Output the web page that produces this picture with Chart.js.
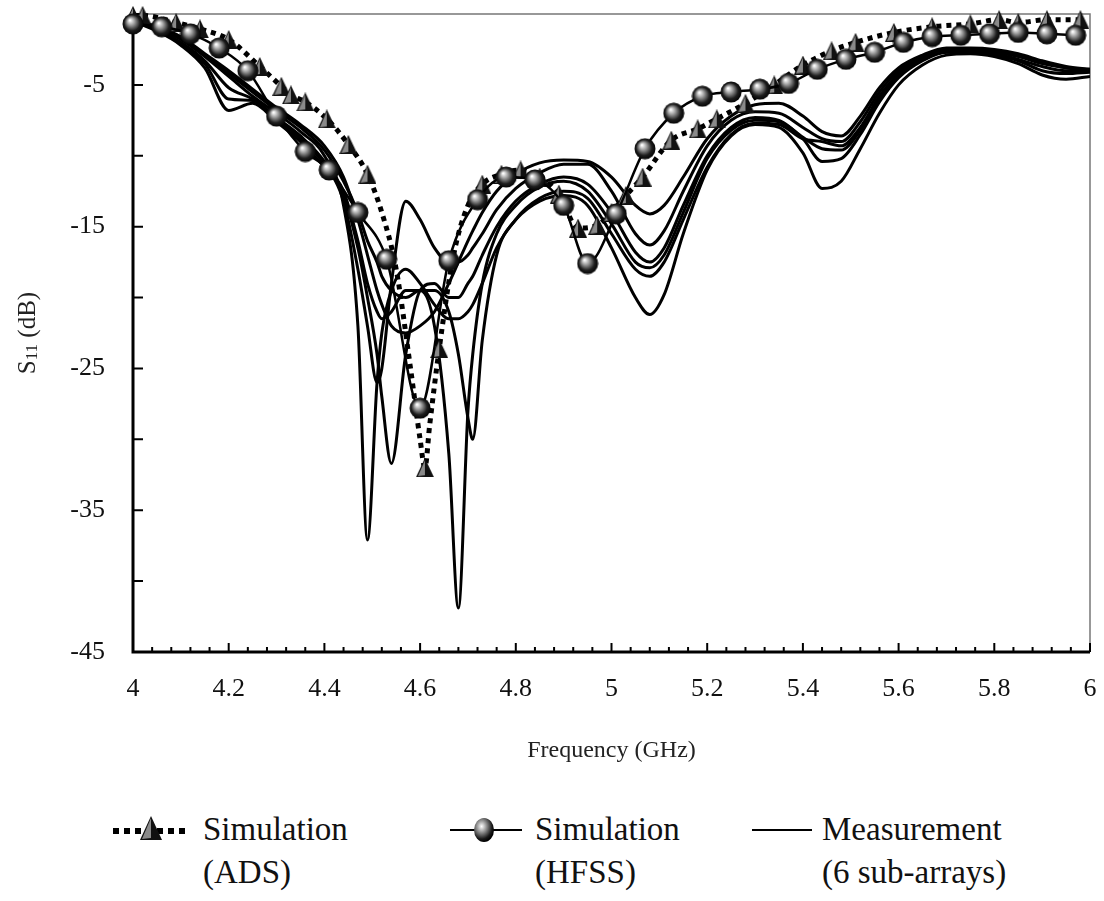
<!DOCTYPE html>
<html>
<head>
<meta charset="utf-8">
<script src="https://cdn.jsdelivr.net/npm/chart.js@4.4.1/dist/chart.umd.min.js"></script>
<style>
  html, body { margin: 0; padding: 0; background: #fff; }
  #wrap { position: relative; width: 1104px; height: 901px; font-family: "Liberation Serif", "Times New Roman", serif; color: #111; }
  #box { position: absolute; left: 0; top: 0; width: 1104px; height: 790px; }
  .sym { position: absolute; }
  .leg { position: absolute; font-size: 33px; line-height: 43px; white-space: nowrap; }
</style>
</head>
<body>
<div id="wrap">
  <div id="box"><canvas id="s11Chart"></canvas></div>

  <svg class="sym" style="left:110px;top:814px" width="84" height="32">
    <line x1="3" y1="17" x2="80" y2="17" stroke="#000" stroke-width="6" stroke-dasharray="6 5"/>
    <polygon points="41,2 52,26 30,26" fill="#111"/>
    <polygon points="41,4 41,24 32,25" fill="#8a8a8a"/>
  </svg>
  <div class="leg" style="left:203px;top:808px">Simulation<br>(ADS)</div>

  <svg class="sym" style="left:448px;top:814px" width="76" height="32">
    <defs>
      <radialGradient id="ball" cx="0.38" cy="0.35" r="0.65">
        <stop offset="0" stop-color="#fff"/>
        <stop offset="0.35" stop-color="#9a9a9a"/>
        <stop offset="0.8" stop-color="#1a1a1a"/>
        <stop offset="1" stop-color="#000"/>
      </radialGradient>
    </defs>
    <line x1="2" y1="16" x2="74" y2="16" stroke="#000" stroke-width="2"/>
    <ellipse cx="36" cy="16" rx="10" ry="12" fill="url(#ball)"/>
  </svg>
  <div class="leg" style="left:535px;top:808px">Simulation<br>(HFSS)</div>

  <svg class="sym" style="left:750px;top:815px" width="64" height="30">
    <line x1="2" y1="15" x2="62" y2="15" stroke="#000" stroke-width="2"/>
  </svg>
  <div class="leg" style="left:822px;top:808px">Measurement<br>(6 sub-arrays)</div>
</div>

<script>
// HFSS simulation (sphere markers)
const hfssFreq = [4.00, 4.06, 4.12, 4.18, 4.24, 4.30, 4.36, 4.41, 4.47, 4.53, 4.60, 4.66, 4.72, 4.78, 4.84,
                  4.90, 4.95, 5.01, 5.07, 5.13, 5.19, 5.25, 5.31, 5.37, 5.43, 5.49, 5.55, 5.61, 5.67, 5.73,
                  5.79, 5.85, 5.91, 5.97];
const hfssS11 = [-0.7, -0.9, -1.4, -2.4, -4.0, -7.2, -9.7, -11.0, -14.0, -17.3, -27.8, -17.4, -13.1, -11.5, -11.7,
                 -13.5, -17.6, -14.1, -9.5, -7.0, -5.8, -5.5, -5.3, -4.9, -3.9, -3.2, -2.7, -2.0, -1.6, -1.5,
                 -1.4, -1.3, -1.4, -1.5];

// ADS simulation (dotted line, triangle markers)
const adsFreq = [4.00, 4.02, 4.09, 4.14, 4.20, 4.265, 4.31, 4.33, 4.36, 4.405, 4.45, 4.49, 4.52, 4.55, 4.58,
                 4.60, 4.61, 4.62, 4.64, 4.67, 4.70, 4.73, 4.77, 4.81, 4.85, 4.89, 4.93, 4.97, 5.00, 5.03,
                 5.065, 5.125, 5.18, 5.22, 5.28, 5.34, 5.40, 5.46, 5.51, 5.59, 5.67, 5.75, 5.81, 5.85, 5.91, 5.98];
const adsS11 = [-0.1, -0.1, -0.6, -1.05, -1.8, -3.7, -5.1, -5.7, -6.2, -7.4, -9.2, -11.3, -14, -18, -25,
                -30, -32, -29, -23.6, -17, -13.5, -12, -11.3, -11, -11.5, -12.7, -15.1, -14.9, -14, -12.8,
                -11.5, -8.9, -8.1, -7.4, -6.3, -5.0, -3.6, -2.6, -2.0, -1.3, -0.9, -0.7, -0.4, -0.6, -0.4, -0.4];
const adsMark = [1, 1, 1, 1, 1, 1, 1, 1, 1, 1, 1, 1, 0, 0, 0,
                 0, 1, 0, 1, 0, 0, 1, 1, 1, 1, 1, 1, 1, 1, 1,
                 1, 1, 1, 1, 1, 1, 1, 1, 1, 1, 1, 1, 1, 1, 1, 1];

// measurement, 6 sub-arrays
const measFreq = [4.00, 4.05, 4.10, 4.15, 4.20, 4.25, 4.30, 4.35, 4.40,
                  4.44, 4.47, 4.49, 4.51, 4.52, 4.54, 4.57, 4.60, 4.63, 4.66,
                  4.68, 4.70, 4.71, 4.73, 4.76, 4.80,
                  4.85, 4.90, 4.95, 5.00, 5.05, 5.08, 5.11, 5.15,
                  5.20, 5.25, 5.30, 5.35, 5.40, 5.44, 5.48, 5.52,
                  5.56, 5.60, 5.65, 5.70, 5.75, 5.80, 5.85, 5.90, 5.95, 6.00];
const meas1 = [-0.5, -1.0, -1.8, -3.0, -4.4, -5.8, -7.0, -8.3, -10.0,
               -13.5, -22, -37.1, -26, -22.5, -19.5, -18, -19, -20.5, -21.5,
               -21.5, -21, -20.5, -19, -16.5, -14.5,
               -13.2, -12.8, -13.5, -16.5, -20, -21.2, -19.8, -15.5,
               -11, -8.6, -7.8, -8.0, -9.8, -12.3, -11.8, -9.5,
               -7.0, -5.0, -3.6, -2.9, -2.8, -3.0, -3.5, -4.3, -4.6, -4.4];
const meas2 = [-0.5, -1.1, -2.0, -3.3, -5.2, -6.0, -7.3, -8.6, -10.4,
               -12.8, -16.5, -20, -24, -27, -31.7, -24, -19.5, -19, -20,
               -20, -19, -18.5, -17, -15, -13.2,
               -12, -11.5, -12, -14, -16.8, -17.5, -16.5, -13.5,
               -10, -8, -7.3, -7.5, -8.8, -10.4, -10.2, -8.5,
               -6.2, -4.5, -3.3, -2.7, -2.7, -2.9, -3.3, -4.0, -4.2, -4.1];
const meas3 = [-0.5, -1.2, -2.2, -3.8, -6.8, -6.3, -7.6, -9.0, -10.8,
               -12.5, -16, -19, -21, -21.5, -21, -19.5, -19.5, -22, -31,
               -41.9, -28, -24, -19, -15.5, -13.5,
               -12.2, -11.8, -12.5, -14.8, -17.5, -17.9, -17, -14,
               -10.2, -8.2, -7.5, -7.6, -8.7, -9.5, -9.6, -8.2,
               -6.0, -4.3, -3.2, -2.7, -2.7, -2.8, -3.2, -3.7, -4.0, -4.0];
const meas4 = [-0.4, -0.9, -1.7, -2.9, -4.2, -5.5, -6.8, -8.0, -9.6,
               -11.8, -14, -16, -17.5, -18.5, -19.5, -20, -19.5, -19.5, -21,
               -24, -28.5, -30, -23, -17, -14.5,
               -13, -12.5, -13, -15.5, -18, -18.5, -17.5, -14.5,
               -10.8, -8.5, -7.7, -7.8, -8.8, -9.0, -9.3, -8.0,
               -5.8, -4.2, -3.1, -2.6, -2.6, -2.7, -3.0, -3.5, -3.8, -3.9];
const meas5 = [-0.5, -1.1, -2.1, -3.5, -6.0, -6.1, -7.4, -8.8, -10.6,
               -13.2, -18, -22, -26, -25, -19, -13.2, -14.5, -16.5, -17.5,
               -17.5, -17, -16.5, -15.5, -13.8, -12.3,
               -11.2, -10.6, -10.6, -12.5, -15.5, -16.3, -15.3, -12.5,
               -9.3, -7.5, -6.9, -7.0, -8.0, -8.8, -9.0, -7.6,
               -5.5, -4.0, -3.0, -2.5, -2.5, -2.6, -2.9, -3.4, -3.8, -4.0];
const meas6 = [-0.4, -0.9, -1.6, -2.8, -4.0, -5.3, -6.6, -7.8, -9.3,
               -11.5, -14.5, -17, -19.5, -20.5, -22, -22.5, -22, -21, -19,
               -17.5, -16, -15.3, -14, -12.5, -11.3,
               -10.5, -10.3, -10.4, -11.5, -13.5, -14.1, -13.5, -11.5,
               -8.8, -7.2, -6.4, -6.3, -7.2, -8.3, -8.6, -7.2,
               -5.2, -3.8, -2.9, -2.4, -2.4, -2.5, -2.8, -3.3, -3.7, -3.9];
const measSeries = [meas1, meas2, meas3, meas4, meas5, meas6];

// axis ticks
const xTicks = [];
for (let i = 0; i <= 50; i++) xTicks.push(4 + i * 0.04);
const yTicks = [-45, -40, -35, -30, -25, -20, -15, -10, -5, 0];

const pts = (xs, ys) => xs.map((f, i) => ({ x: f, y: ys[i] }));

function makeSphere(d) {
  const c = document.createElement('canvas');
  c.width = d; c.height = d;
  const g = c.getContext('2d');
  const r = d / 2;
  const grad = g.createRadialGradient(r * 0.72, r * 0.66, 0.5, r, r, r);
  grad.addColorStop(0, '#ffffff');
  grad.addColorStop(0.28, '#a8a8a8');
  grad.addColorStop(0.7, '#1e1e1e');
  grad.addColorStop(1, '#000');
  g.fillStyle = grad;
  g.beginPath(); g.arc(r, r, r - 0.5, 0, Math.PI * 2); g.fill();
  return c;
}

function makeCone(w, h) {
  const c = document.createElement('canvas');
  c.width = w; c.height = h;
  const g = c.getContext('2d');
  g.fillStyle = '#111';
  g.beginPath(); g.moveTo(w / 2, 0); g.lineTo(w, h); g.lineTo(0, h); g.closePath(); g.fill();
  g.fillStyle = '#8a8a8a';
  g.beginPath(); g.moveTo(w / 2, 2); g.lineTo(w / 2, h - 2); g.lineTo(2, h - 1); g.closePath(); g.fill();
  return c;
}

const sphere = makeSphere(22);
const cone = makeCone(18, 19);

const axisFrame = {
  id: 'axisFrame',
  beforeDatasetsDraw(chart) {
    const { ctx, chartArea: a, scales: { x, y } } = chart;
    ctx.save();
    ctx.strokeStyle = '#777';
    ctx.lineWidth = 1.5;
    ctx.beginPath();
    ctx.moveTo(a.left, a.top); ctx.lineTo(a.right, a.top); ctx.lineTo(a.right, a.bottom);
    ctx.stroke();

    ctx.strokeStyle = '#000';
    ctx.lineWidth = 2;
    ctx.beginPath();
    xTicks.forEach((v, i) => {
      const px = x.getPixelForValue(v);
      const len = i % 5 === 0 ? 9 : 5;
      ctx.moveTo(px, a.bottom); ctx.lineTo(px, a.bottom - len);
    });
    yTicks.forEach(v => {
      const py = y.getPixelForValue(v);
      ctx.moveTo(a.left, py); ctx.lineTo(a.left + 10, py);
    });
    ctx.stroke();

    ctx.lineWidth = 3;
    ctx.beginPath();
    ctx.moveTo(a.left, a.top); ctx.lineTo(a.left, a.bottom); ctx.lineTo(a.right, a.bottom);
    ctx.stroke();

    // y title with subscript
    ctx.translate(28, (a.top + a.bottom) / 2);
    ctx.rotate(-Math.PI / 2);
    ctx.fillStyle = '#222';
    ctx.textBaseline = 'middle';
    const big = '25px "Liberation Serif"', small = '17px "Liberation Serif"';
    ctx.font = big; const wS = ctx.measureText('S').width; const wR = ctx.measureText(' (dB)').width;
    ctx.font = small; const wSub = ctx.measureText('11').width;
    let tx = -(wS + wSub + wR) / 2;
    ctx.font = big; ctx.fillText('S', tx, 0); tx += wS;
    ctx.font = small; ctx.fillText('11', tx, 5); tx += wSub;
    ctx.font = big; ctx.fillText(' (dB)', tx, 0);
    ctx.restore();
  }
};

const datasets = [
  {
    label: 'Simulation (HFSS)',
    data: pts(hfssFreq, hfssS11),
    borderColor: '#000',
    borderWidth: 2.5,
    pointStyle: sphere,
    pointRadius: 10,
    cubicInterpolationMode: 'monotone',
    clip: false
  },
  {
    label: 'Simulation (ADS)',
    data: pts(adsFreq, adsS11),
    borderColor: '#000',
    borderWidth: 5,
    borderDash: [5, 5],
    pointStyle: cone,
    pointRadius: ctx => adsMark[ctx.dataIndex] ? 9 : 0,
    cubicInterpolationMode: 'monotone',
    clip: false
  }
];
measSeries.forEach((m, k) => datasets.push({
  label: 'Measurement ' + (k + 1),
  data: pts(measFreq, m),
  borderColor: '#000',
  borderWidth: 3,
  pointRadius: 0,
  cubicInterpolationMode: 'monotone'
}));

new Chart(document.getElementById('s11Chart'), {
  type: 'line',
  data: { datasets: datasets },
  options: {
    responsive: true,
    maintainAspectRatio: false,
    animation: false,
    events: [],
    layout: { padding: { left: 13, top: 12, right: 13, bottom: 23 } },
    plugins: {
      legend: { display: false },
      tooltip: { enabled: false }
    },
    scales: {
      x: {
        type: 'linear',
        min: 4,
        max: 6,
        grid: { display: false, drawTicks: false },
        border: { display: false },
        ticks: {
          stepSize: 0.2,
          autoSkip: false,
          maxRotation: 0,
          padding: 22,
          color: '#111',
          font: { family: 'Liberation Serif', size: 26 },
          callback: v => +v.toFixed(1)
        },
        title: {
          display: true,
          text: 'Frequency (GHz)',
          color: '#222',
          font: { family: 'Liberation Serif', size: 24 },
          padding: 2
        },
        afterFit: s => { s.height = 115; s.paddingLeft = 0; s.paddingRight = 0; }
      },
      y: {
        type: 'linear',
        min: -45,
        max: 0,
        grid: { display: false, drawTicks: false },
        border: { display: false },
        ticks: {
          stepSize: 5,
          padding: 28,
          color: '#111',
          font: { family: 'Liberation Serif', size: 26 },
          callback: v => (v % 10 === -5 ? v : '')
        },
        afterFit: s => { s.width = 120; s.paddingTop = 0; s.paddingBottom = 0; }
      }
    }
  },
  plugins: [axisFrame]
});
</script>
</body>
</html>
